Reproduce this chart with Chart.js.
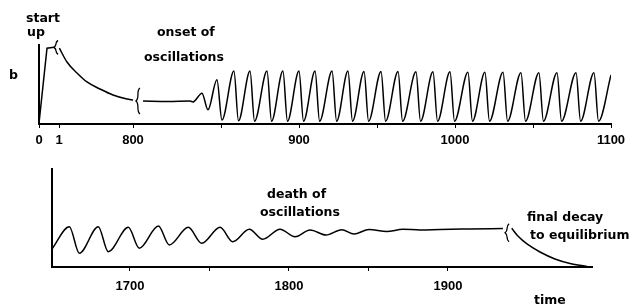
<!DOCTYPE html>
<html>
<head>
<meta charset="utf-8">
<script src="https://cdn.jsdelivr.net/npm/chart.js@4.4.1/dist/chart.umd.min.js"></script>
<style>
  html, body { margin: 0; padding: 0; background: #fff; }
  #wrap { position: relative; width: 631px; height: 304px; overflow: hidden; background: #fff; }
  canvas { position: absolute; left: 0; }
  .lbl { position: absolute; font: bold 12.5px "DejaVu Sans", sans-serif; color: #000; white-space: nowrap; transform: translateY(-50%); line-height: 1; }
</style>
</head>
<body>
<div id="wrap">
  <canvas id="topChart" width="631" height="150" style="top:0"></canvas>
  <canvas id="botChart" width="631" height="154" style="top:150px"></canvas>
  <div class="lbl" style="left:26px;top:18px">start</div>
  <div class="lbl" style="left:27px;top:32px">up</div>
  <div class="lbl" style="left:9px;top:75px">b</div>
  <div class="lbl" style="left:157px;top:32px">onset of</div>
  <div class="lbl" style="left:144px;top:57px">oscillations</div>
  <div class="lbl" style="left:267px;top:194px">death of</div>
  <div class="lbl" style="left:260px;top:212px">oscillations</div>
  <div class="lbl" style="left:527px;top:217px">final decay</div>
  <div class="lbl" style="left:530px;top:235px">to equilibrium</div>
  <div class="lbl" style="left:534px;top:300px">time</div>
</div>
<script>
// ---------------- DATA ----------------
// Top panel: start-up, slow decay, onset of oscillations (time, b)
const topStartT = [0, 0.4, 0.75];
const topStartB = [0.01, 0.96, 0.97];

const topDecayT = [5, 87, 195, 303, 444, 584, 735, 800];
const topDecayB = [0.96, 0.785, 0.646, 0.532, 0.443, 0.367, 0.316, 0.304];

const topOscT = [805.7, 820, 832.4, 834.1, 839.2, 842.6, 847.7, 850.6,
  858.3, 861.2, 868.6, 871.5, 879.5, 882.4, 889.7, 892.6, 900.0, 902.9,
  910.3, 913.2, 921.2, 924.1, 931.4, 934.3, 941.7, 944.6, 952.6, 955.5,
  963.5, 966.4, 975.0, 977.9, 985.9, 988.8, 996.8, 999.7, 1008.3, 1011.2,
  1019.2, 1022.1, 1030.8, 1033.7, 1042.3, 1045.2, 1053.8, 1056.7, 1065.4, 1068.3,
  1077.6, 1080.5, 1089.1, 1092.0, 1100];
const topOscB = [0.29, 0.285, 0.29, 0.28, 0.39, 0.18, 0.56, 0.05,
  0.67, 0.04, 0.67, 0.035, 0.67, 0.035, 0.67, 0.035, 0.67, 0.035,
  0.67, 0.035, 0.67, 0.035, 0.67, 0.035, 0.665, 0.035, 0.665, 0.035,
  0.665, 0.035, 0.66, 0.035, 0.66, 0.035, 0.66, 0.035, 0.655, 0.035,
  0.655, 0.035, 0.655, 0.035, 0.65, 0.035, 0.65, 0.035, 0.65, 0.035,
  0.65, 0.035, 0.65, 0.035, 0.62];

const topTickValues = [0, 1, 800, 850, 900, 950, 1000, 1050, 1100];
const topTickLabels = ['0', '1', '800', '', '900', '', '1000', '', '1100'];

// Bottom panel: death of oscillations, final decay (time, b)
const botOscT = [1651, 1661.9, 1668.2, 1680.1, 1686.4, 1699.0, 1705.9, 1717.9, 1724.8,
  1736.7, 1745.2, 1756.7, 1764.7, 1775.1, 1783.5, 1794.4, 1803.9, 1813.3, 1823.3,
  1833.2, 1840.9, 1850.4, 1861.5, 1871.7, 1882.4, 1895, 1913.9, 1934.6];
const botOscB = [0.184, 0.411, 0.140, 0.411, 0.156, 0.405, 0.191, 0.418, 0.224,
  0.405, 0.242, 0.405, 0.258, 0.385, 0.283, 0.385, 0.309, 0.378, 0.327,
  0.381, 0.337, 0.383, 0.362, 0.385, 0.378, 0.383, 0.388, 0.393];

const botDecayT = [1940.1, 1944, 1949.7, 1957.9, 1967.3, 1976.8, 1987.5];
const botDecayB = [0.395, 0.316, 0.235, 0.153, 0.082, 0.036, 0.005];

const botTickValues = [1700, 1750, 1800, 1850, 1900];
const botTickLabels = ['1700', '', '1800', '', '1900'];

// axis-break marks (time, b) for each panel
const topBreaks = [[0.85, 0.97], [802.8, 0.29]];
const botBreaks = [[1937.2, 0.35]];

// ---------------- SCALE: piecewise (broken) time axis ----------------
const topKnots = [0, 1, 800, 850, 1100];
const topKnotFrac = [0, 20 / 572, 94 / 572, 182 / 572, 1];

class BrokenScale extends Chart.LinearScale {
  _toDec(v) {
    const k = topKnots, f = topKnotFrac;
    if (v <= k[0]) return f[0];
    for (let i = 1; i < k.length; i++) {
      if (v <= k[i]) return f[i - 1] + (v - k[i - 1]) / (k[i] - k[i - 1]) * (f[i] - f[i - 1]);
    }
    return f[f.length - 1];
  }
  _fromDec(d) {
    const k = topKnots, f = topKnotFrac;
    for (let i = 1; i < f.length; i++) {
      if (d <= f[i]) return k[i - 1] + (d - f[i - 1]) / (f[i] - f[i - 1]) * (k[i] - k[i - 1]);
    }
    return k[k.length - 1];
  }
  getPixelForValue(value) { return this.getPixelForDecimal(this._toDec(value)); }
  getValueForPixel(pixel) { return this._fromDec(this.getDecimalForPixel(pixel)); }
}
BrokenScale.id = 'broken';
BrokenScale.defaults = Chart.LinearScale.defaults;
Chart.register(BrokenScale);

// ---------------- helpers ----------------
const pts = (T, B) => T.map((t, i) => ({ x: t, y: B[i] }));
const lineDs = (data, smooth = true) => Object.assign({
  data, borderColor: '#000', borderWidth: 1.5, pointRadius: 0, fill: false
}, smooth ? { cubicInterpolationMode: 'monotone' } : { tension: 0 });

const breakPlugin = (marks, h) => ({
  id: 'breaks',
  afterDatasetsDraw(chart) {
    const ctx = chart.ctx, xs = chart.scales.x, ys = chart.scales.y;
    ctx.save();
    ctx.strokeStyle = '#000';
    ctx.lineWidth = 1.3;
    marks.forEach(([t, b], i) => {
      const x = xs.getPixelForValue(t), y = ys.getPixelForValue(b);
      const hh = h[i] / 2;
      ctx.beginPath();
      ctx.moveTo(x + 2, y - hh);
      ctx.bezierCurveTo(x - 2, y - hh + 3, x + 2, y - 3, x - 2, y);
      ctx.bezierCurveTo(x + 2, y + 3, x - 2, y + hh - 3, x + 2, y + hh);
      ctx.stroke();
    });
    ctx.restore();
  }
});

const tickFont = { family: '"Liberation Sans", sans-serif', weight: 'bold', size: 13 };

function makeOptions(cfg) {
  return {
    responsive: false,
    devicePixelRatio: 1,
    animation: false,
    events: [],
    layout: { padding: cfg.padding },
    plugins: { legend: { display: false }, tooltip: { enabled: false } },
    scales: {
      x: {
        type: cfg.xType,
        min: cfg.xMin, max: cfg.xMax,
        afterBuildTicks: (axis) => { axis.ticks = cfg.tickValues.map(v => ({ value: v })); },
        afterFit: (s) => { s.height = cfg.xHeight; },
        ticks: {
          autoSkip: false, maxRotation: 0, color: '#000', font: tickFont, padding: cfg.tickPad,
          callback: (v) => { const i = cfg.tickValues.indexOf(v); return i >= 0 ? cfg.tickLabels[i] : ''; }
        },
        grid: { drawOnChartArea: false, drawTicks: true, tickLength: 4, tickColor: '#000', tickWidth: 1 },
        border: { display: true, color: '#000', width: 2 }
      },
      y: {
        type: 'linear', min: 0, max: 1,
        afterFit: (s) => { s.width = cfg.yWidth; },
        ticks: { display: false },
        grid: { display: false, drawOnChartArea: false, drawTicks: false },
        border: { display: true, color: '#000', width: 2 }
      }
    }
  };
}

// ---------------- TOP CHART ----------------
new Chart(document.getElementById('topChart'), {
  type: 'line',
  data: {
    datasets: [
      lineDs(pts(topStartT, topStartB), false),
      lineDs(pts(topDecayT, topDecayB)),
      lineDs(pts(topOscT, topOscB))
    ]
  },
  options: makeOptions({
    xType: 'broken', xMin: 0, xMax: 1100,
    tickValues: topTickValues, tickLabels: topTickLabels,
    padding: { left: 0, right: 20, top: 45, bottom: 0 },
    xHeight: 26, yWidth: 39, tickPad: 5
  }),
  plugins: [breakPlugin(topBreaks, [14, 26])]
});

// ---------------- BOTTOM CHART ----------------
new Chart(document.getElementById('botChart'), {
  type: 'line',
  data: {
    datasets: [
      lineDs(pts(botOscT, botOscB)),
      lineDs(pts(botDecayT, botDecayB))
    ]
  },
  options: makeOptions({
    xType: 'linear', xMin: 1651, xMax: 1990.6,
    tickValues: botTickValues, tickLabels: botTickLabels,
    padding: { left: 0, right: 39, top: 19, bottom: 0 },
    xHeight: 37, yWidth: 52, tickPad: 8
  }),
  plugins: [breakPlugin(botBreaks, [18])]
});
</script>
</body>
</html>
